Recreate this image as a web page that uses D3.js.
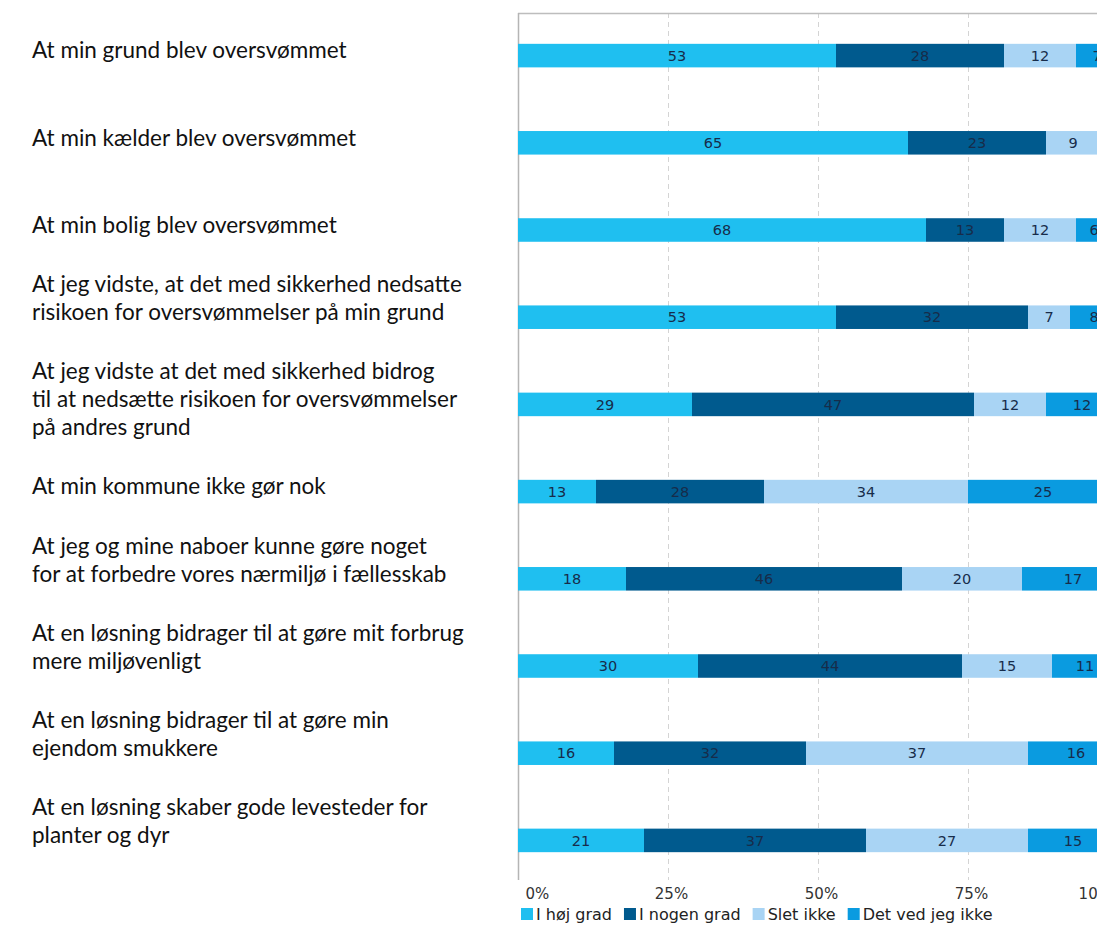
<!DOCTYPE html>
<html>
<head>
<meta charset="utf-8">
<script src="https://cdn.jsdelivr.net/npm/d3@7"></script>
<style>
  html, body { margin: 0; padding: 0; background: #fff; }
  svg { display: block; }
</style>
</head>
<body>
<svg id="chart" width="1097" height="938"></svg>
<script>
const categories = [
  "grund", "kaelder", "bolig", "nedsatte", "andres",
  "kommune", "naboer", "forbrug", "smukkere", "levesteder"
];
const labelLines = [
  ["At min grund blev oversvømmet"],
  ["At min kælder blev oversvømmet"],
  ["At min bolig blev oversvømmet"],
  ["At jeg vidste, at det med sikkerhed nedsatte", "risikoen for oversvømmelser på min grund"],
  ["At jeg vidste at det med sikkerhed bidrog", "til at nedsætte risikoen for oversvømmelser", "på andres grund"],
  ["At min kommune ikke gør nok"],
  ["At jeg og mine naboer kunne gøre noget", "for at forbedre vores nærmiljø i fællesskab"],
  ["At en løsning bidrager til at gøre mit forbrug", "mere miljøvenligt"],
  ["At en løsning bidrager til at gøre min", "ejendom smukkere"],
  ["At en løsning skaber gode levesteder for", "planter og dyr"]
];
const seriesNames = ["I høj grad", "I nogen grad", "Slet ikke", "Det ved jeg ikke"];
const iHoejGrad    = [53, 65, 68, 53, 29, 13, 18, 30, 16, 21];
const iNogenGrad   = [28, 23, 13, 32, 47, 28, 46, 44, 32, 37];
const sletIkke     = [12,  9, 12,  7, 12, 34, 20, 15, 37, 27];
const detVedJegIkke= [ 7,  3,  6,  8, 12, 25, 17, 11, 16, 15];
const tickValues = [0, 25, 50, 75, 100];
const tickLabels = ["0%", "25%", "50%", "75%", "100%"];
const colors = ["#1fbff0", "#005a8e", "#a9d4f4", "#0a9be0"];

const seriesData = [iHoejGrad, iNogenGrad, sletIkke, detVedJegIkke];
const rows = categories.map((c, i) => {
  const r = { cat: c };
  seriesNames.forEach((s, k) => r[s] = seriesData[k][i]);
  return r;
});

const svg = d3.select("#chart");
const plotTop = 13, plotBottom = 880;

const x = d3.scaleLinear().domain([0, 100]).range([518, 1118]);
const y = d3.scaleBand().domain(categories).range([12, 884]).paddingInner(0.73).paddingOuter(0.365);
const color = d3.scaleOrdinal().domain(seriesNames).range(colors);

// gridlines
svg.append("g").selectAll("line")
  .data(tickValues.filter(v => v > 0))
  .join("line")
  .attr("x1", d => Math.round(x(d)) + 0.5).attr("x2", d => Math.round(x(d)) + 0.5)
  .attr("y1", plotTop).attr("y2", plotBottom)
  .attr("stroke", "#d4d4d4").attr("stroke-width", 1).attr("stroke-dasharray", "5,4");

// frame: top and left
svg.append("line").attr("x1", x(0)).attr("x2", 1097).attr("y1", plotTop + 0.5).attr("y2", plotTop + 0.5)
  .attr("stroke", "#bdbdbd").attr("stroke-width", 1.5);
svg.append("line").attr("x1", x(0) + 0.5).attr("x2", x(0) + 0.5).attr("y1", plotTop).attr("y2", plotBottom)
  .attr("stroke", "#b5b5b5").attr("stroke-width", 1.5);

// stacked bars
const stacked = d3.stack().keys(seriesNames)(rows);
const groups = svg.append("g").selectAll("g")
  .data(stacked).join("g").attr("fill", d => color(d.key));
groups.selectAll("rect")
  .data(d => d.map(p => ({ p, key: d.key })))
  .join("rect")
  .attr("x", d => x(d.p[0]))
  .attr("width", d => x(d.p[1]) - x(d.p[0]))
  .attr("y", d => y(d.p.data.cat))
  .attr("height", y.bandwidth());

// value labels
svg.append("g").selectAll("g")
  .data(stacked).join("g")
  .selectAll("text")
  .data(d => d.map(p => ({ p, key: d.key })))
  .join("text")
  .attr("x", d => (x(d.p[0]) + x(d.p[1])) / 2)
  .attr("y", d => y(d.p.data.cat) + y.bandwidth() / 2)
  .attr("dy", "0.36em")
  .attr("text-anchor", "middle")
  .attr("font-family", "'DejaVu Sans', Verdana, sans-serif")
  .attr("font-size", 14.5)
  .attr("fill", "#172c4a")
  .text(d => d.p.data[d.key]);

// x axis labels
const axis = d3.axisBottom(x).tickValues(tickValues).tickFormat((d, i) => tickLabels[i]).tickSize(0);
const ax = svg.append("g").attr("transform", `translate(0, ${plotBottom})`).call(axis);
ax.select(".domain").remove();
const last = tickValues.length - 1;
ax.selectAll("text")
  .attr("font-family", "'DejaVu Sans', Verdana, sans-serif")
  .attr("font-size", 15)
  .attr("fill", "#333")
  .attr("y", 8)
  .attr("dy", "0.71em")
  .attr("text-anchor", (d, i) => i === 0 ? "start" : (i === last ? "end" : "middle"))
  .attr("dx", (d, i) => i === 0 ? 7 : 3);

// category labels (left)
const lineH = 28;
const lab = svg.append("g").selectAll("text")
  .data(categories)
  .join("text")
  .attr("font-family", "Lato, 'Open Sans', sans-serif")
  .attr("font-size", 22.5)
  .attr("fill", "#111");
lab.each(function(c, i) {
  const lines = labelLines[i];
  const anchorLine = Math.min(1, lines.length - 1);
  const cy = y(c) + y.bandwidth() / 2 - 5;
  const t = d3.select(this);
  lines.forEach((ln, k) => {
    t.append("tspan")
      .attr("x", 32)
      .attr("y", cy + (k - anchorLine) * lineH)
      .attr("dy", "0.35em")
      .text(ln);
  });
});

// legend
const legend = svg.append("g").attr("transform", "translate(521, 914)");
let lx = 0;
seriesNames.forEach((s, i) => {
  const g = legend.append("g").attr("transform", `translate(${lx},0)`);
  g.append("rect").attr("x", 0).attr("y", -6).attr("width", 12).attr("height", 12).attr("fill", colors[i]);
  const t = g.append("text").attr("x", 15).attr("y", 0).attr("dy", "0.36em")
    .attr("font-family", "'DejaVu Sans', Verdana, sans-serif")
    .attr("font-size", 16).attr("fill", "#222").text(s);
  lx += 15 + t.node().getComputedTextLength() + 12;
});
</script>
</body>
</html>
